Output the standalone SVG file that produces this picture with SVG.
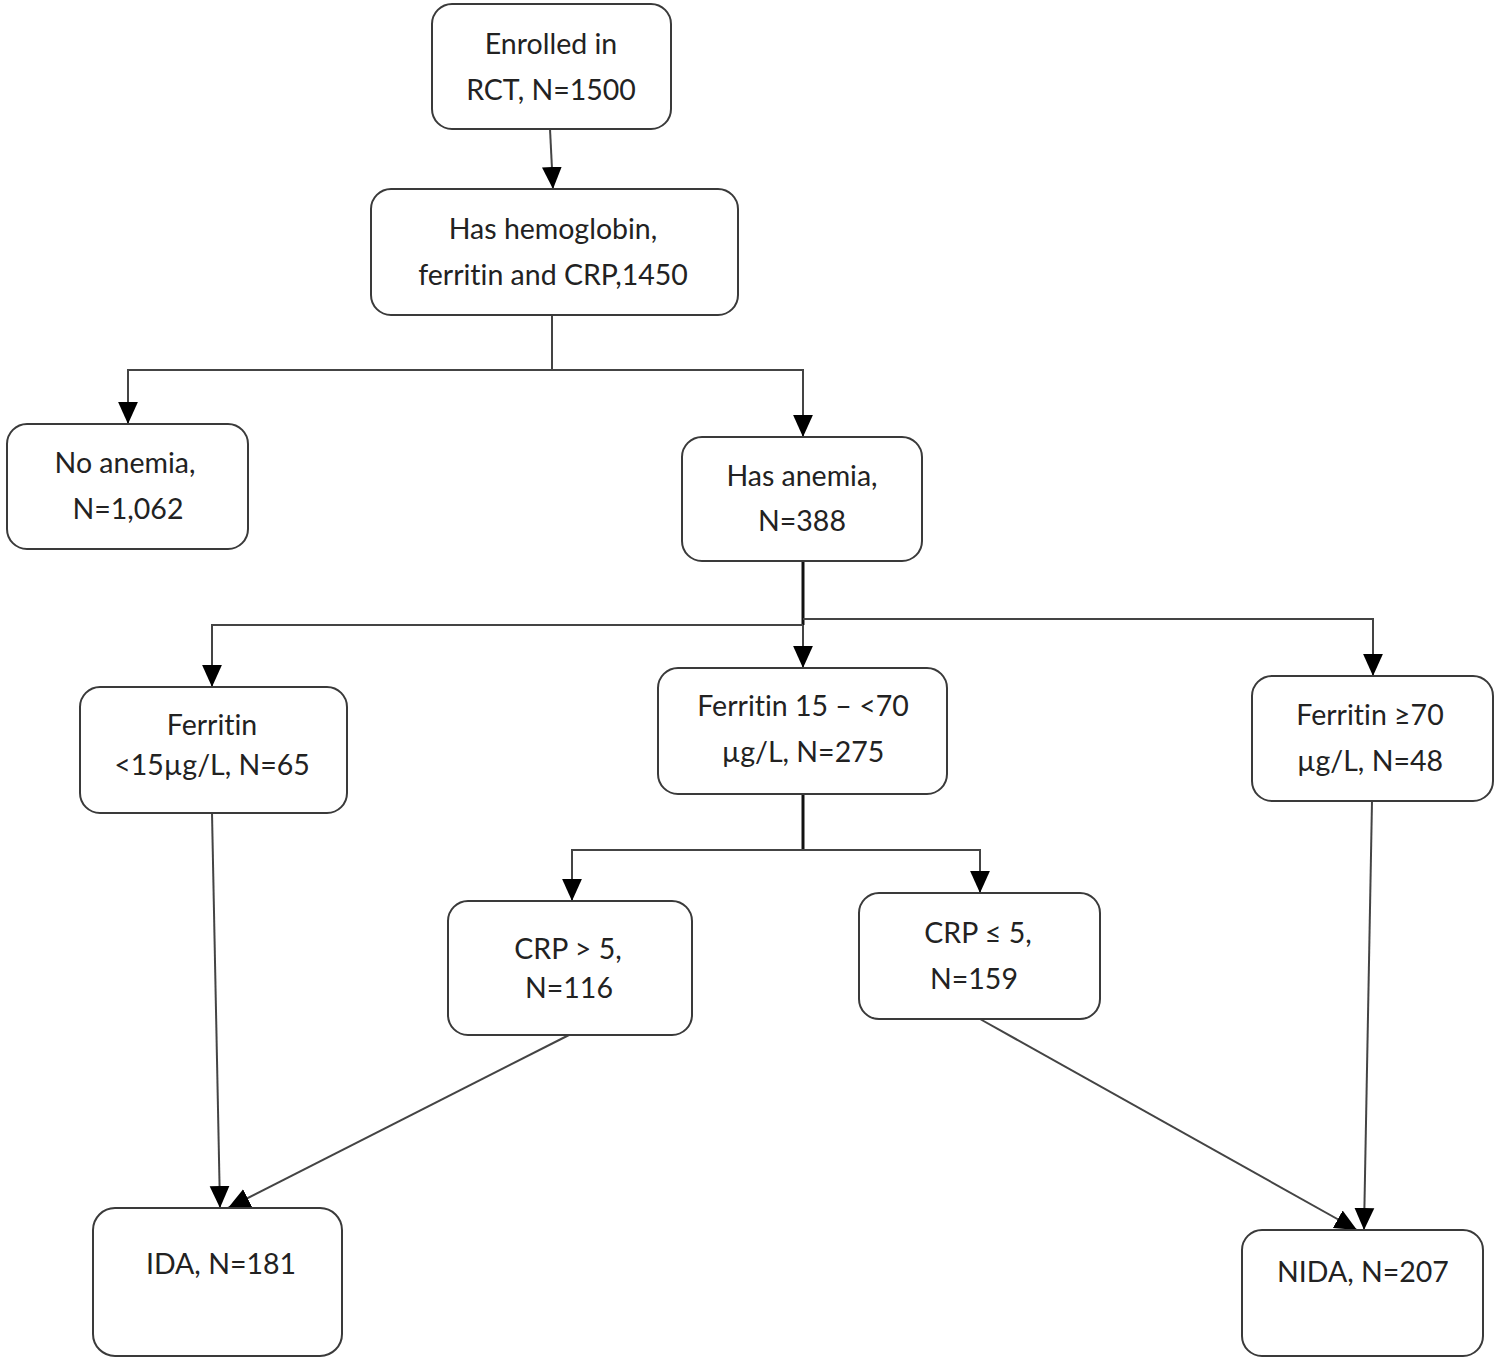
<svg xmlns="http://www.w3.org/2000/svg" width="1497" height="1360" viewBox="0 0 1497 1360">
<style>
.box{fill:#fff;stroke:#3a3a3a;stroke-width:2}
.t{font-family:Lato,"Open Sans","Liberation Sans",sans-serif;font-size:28.5px;fill:#222;text-anchor:middle;font-variant-ligatures:none}
.c{fill:none;stroke:#444;stroke-width:2}
.k{stroke:#111;stroke-width:3}
</style>
<defs>
<marker id="ah" markerUnits="userSpaceOnUse" markerWidth="22" markerHeight="22" viewBox="0 0 20 20" refX="20" refY="10" orient="auto">
<path d="M0,1 L20,10 L0,19 Z" fill="#000"/>
</marker>
</defs>
<rect width="1497" height="1360" fill="#fff"/>
<g id="connectors">
<line class="c" x1="550" y1="129" x2="553" y2="189" marker-end="url(#ah)"/>
<polyline class="c" points="552,315 552,370"/>
<polyline class="c" points="552,370 128,370 128,424" marker-end="url(#ah)"/>
<polyline class="c" points="552,370 803,370 803,437" marker-end="url(#ah)"/>
<line class="c k" x1="803" y1="561" x2="803" y2="625"/>
<polyline class="c" points="803,625 212,625 212,687" marker-end="url(#ah)"/>
<polyline class="c" points="803,619 1373,619 1373,676" marker-end="url(#ah)"/>
<line class="c" x1="803" y1="625" x2="803" y2="668" marker-end="url(#ah)"/>
<line class="c k" x1="803" y1="794" x2="803" y2="850"/>
<polyline class="c" points="803,850 572,850 572,901" marker-end="url(#ah)"/>
<polyline class="c" points="803,850 980,850 980,893" marker-end="url(#ah)"/>
<line class="c" x1="212" y1="813" x2="220" y2="1208" marker-end="url(#ah)"/>
<line class="c" x1="569" y1="1035" x2="228" y2="1208" marker-end="url(#ah)"/>
<line class="c" x1="980" y1="1019" x2="1357" y2="1230" marker-end="url(#ah)"/>
<line class="c" x1="1372" y1="801" x2="1364" y2="1230" marker-end="url(#ah)"/>
</g>
<g id="enrolled"><rect class="box" x="432" y="4" width="239" height="125" rx="20"/>
<text class="t" x="551" y="54">Enrolled in</text><text class="t" x="551" y="100">RCT, N=1500</text></g>
<g id="has-hb"><rect class="box" x="371" y="189" width="367" height="126" rx="20"/>
<text class="t" x="553" y="239">Has hemoglobin,</text><text class="t" x="553" y="285">ferritin and CRP,1450</text></g>
<g id="no-anemia"><rect class="box" x="7" y="424" width="241" height="125" rx="20"/>
<text class="t" x="125" y="473">No anemia,</text><text class="t" x="128" y="519">N=1,062</text></g>
<g id="has-anemia"><rect class="box" x="682" y="437" width="240" height="124" rx="20"/>
<text class="t" x="802" y="486">Has anemia,</text><text class="t" x="802" y="531">N=388</text></g>
<g id="ferritin-lt15"><rect class="box" x="80" y="687" width="267" height="126" rx="20"/>
<text class="t" x="212" y="735">Ferritin</text><text class="t" x="212" y="775">&lt;15µg/L, N=65</text></g>
<g id="ferritin-15-70"><rect class="box" x="658" y="668" width="289" height="126" rx="20"/>
<text class="t" x="803" y="716">Ferritin 15 – &lt;70</text><text class="t" x="803" y="762">µg/L, N=275</text></g>
<g id="ferritin-ge70"><rect class="box" x="1252" y="676" width="241" height="125" rx="20"/>
<text class="t" x="1370" y="725">Ferritin ≥70</text><text class="t" x="1370" y="771">µg/L, N=48</text></g>
<g id="crp-gt5"><rect class="box" x="448" y="901" width="244" height="134" rx="20"/>
<text class="t" x="568" y="959">CRP &gt; 5,</text><text class="t" x="569" y="998">N=116</text></g>
<g id="crp-le5"><rect class="box" x="859" y="893" width="241" height="126" rx="20"/>
<text class="t" x="978" y="943">CRP ≤ 5,</text><text class="t" x="974" y="989">N=159</text></g>
<g id="ida"><rect class="box" x="93" y="1208" width="249" height="148" rx="22"/>
<text class="t" x="221" y="1274">IDA, N=181</text></g>
<g id="nida"><rect class="box" x="1242" y="1230" width="241" height="126" rx="20"/>
<text class="t" x="1363" y="1282">NIDA, N=207</text></g>
</svg>
